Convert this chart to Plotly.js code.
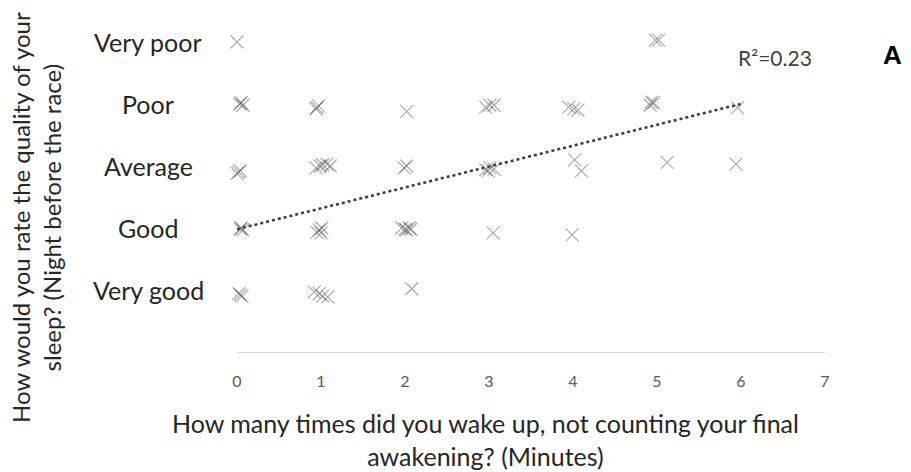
<!DOCTYPE html>
<html>
<head>
<meta charset="utf-8">
<script src="https://cdn.plot.ly/plotly-3.0.1.min.js"></script>
<style>
  html, body { margin: 0; padding: 0; background: #ffffff; }
  #chart { width: 911px; height: 472px; }
</style>
</head>
<body>
<div id="chart"></div>
<script>
// Sleep quality rating (1 = very good ... 5 = very poor) vs. number of night awakenings
const qualityLevels = [1, 2, 3, 4, 5];
const qualityLabels = ['Very good', 'Good', 'Average', 'Poor', 'Very poor'];
const xTicks = [0, 1, 2, 3, 4, 5, 6, 7];

// One entry per runner (slightly offset so coincident answers stay visible)
const wakeups = [
  // Very poor
  0.00, 4.98, 5.02,
  // Poor
  0.05, 0.07, 0.03, 0.95, 0.97, 0.94, 2.02, 2.96, 3.01, 3.06,
  3.95, 4.01, 4.06, 4.92, 4.96, 4.93, 5.96,
  // Average
  0.02, 0.04, 0.00, 0.94, 0.99, 1.02, 1.07, 1.11, 1.99, 2.02,
  2.96, 3.01, 3.06, 2.99, 4.02, 4.10, 5.12, 5.94,
  // Good
  0.04, 0.07, 0.05, 0.98, 1.00, 0.95, 1.01, 1.96, 2.00, 2.05,
  2.07, 2.02, 3.05, 3.99,
  // Very good
  0.04, 0.06, 0.02, 0.92, 0.98, 1.02, 1.08, 2.08
];
const quality = [
  5.00, 5.03, 5.03,
  4.02, 3.98, 4.00, 3.94, 3.97, 3.92, 3.88, 3.95, 3.98, 3.98,
  3.95, 3.92, 3.90, 3.98, 4.02, 4.03, 3.94,
  2.90, 2.92, 2.88, 2.97, 3.00, 3.02, 3.03, 3.00, 2.97, 3.00,
  2.94, 2.97, 2.95, 2.92, 3.10, 2.92, 3.06, 3.03,
  1.98, 1.97, 2.00, 1.97, 1.92, 1.93, 2.00, 2.00, 1.98, 2.00,
  1.98, 1.97, 1.92, 1.89,
  0.92, 0.90, 0.94, 0.97, 0.94, 0.90, 0.89, 1.02
];

// Linear trendline
const trendX = [0, 6];
const trendIntercept = 1.98;
const trendSlope = 0.337;
const rSquaredText = 'R²=0.23';
const panelLetter = 'A';

const yTitle = 'How would you rate the quality of your<br>sleep? (Night before the race)';
const xTitle = 'How many times did you wake up, not counting your final<br>awakening? (Minutes)';

const font = 'Lato, "Open Sans", sans-serif';

const points = {
  type: 'scatter',
  mode: 'markers',
  x: wakeups,
  y: quality,
  cliponaxis: false,
  hoverinfo: 'skip',
  marker: {
    symbol: 'x-thin-open',
    size: 13,
    color: 'rgba(80,80,80,0.5)',
    line: { color: 'rgba(80,80,80,0.5)', width: 1.1 }
  },
  showlegend: false
};

const trend = {
  type: 'scatter',
  mode: 'lines',
  x: trendX,
  y: trendX.map(v => trendIntercept + trendSlope * v),
  cliponaxis: false,
  line: { color: '#3f3f3f', width: 2.6, dash: 'dot' },
  hoverinfo: 'skip',
  showlegend: false
};

// plot area: left edge 237px, width 588px; bottom 352px, height 332px
const px = v => (v - 237) / 588;
const py = v => (352 - v) / 332;

const annotations = qualityLevels.map((lvl, i) => ({
  xref: 'paper', yref: 'y',
  x: px(148), y: lvl,
  xanchor: 'center', yanchor: 'middle',
  text: qualityLabels[i],
  showarrow: false,
  font: { family: font, size: 25, color: '#262626' }
}));

annotations.push(
  {
    xref: 'paper', yref: 'paper',
    x: px(36), y: py(218),
    xanchor: 'center', yanchor: 'middle',
    textangle: -90,
    text: yTitle,
    showarrow: false,
    font: { family: font, size: 24, color: '#262626' }
  },
  {
    xref: 'paper', yref: 'paper',
    x: px(485), y: py(439),
    xanchor: 'center', yanchor: 'middle',
    text: xTitle,
    showarrow: false,
    font: { family: font, size: 25, color: '#262626' }
  },
  {
    xref: 'paper', yref: 'paper',
    x: px(775), y: py(57),
    xanchor: 'center', yanchor: 'middle',
    text: rSquaredText,
    showarrow: false,
    font: { family: font, size: 21, color: '#404040' }
  },
  {
    xref: 'paper', yref: 'paper',
    x: px(892), y: py(55),
    xanchor: 'center', yanchor: 'middle',
    text: '<b>' + panelLetter + '</b>',
    showarrow: false,
    font: { family: 'Liberation Sans, Arial, sans-serif', size: 26, color: '#000000' }
  }
);

const layout = {
  width: 911,
  height: 472,
  margin: { l: 237, r: 86, t: 20, b: 120 },
  paper_bgcolor: '#ffffff',
  plot_bgcolor: '#ffffff',
  xaxis: {
    range: [0, 7],
    tickvals: xTicks,
    ticktext: xTicks.map(String),
    showgrid: false,
    zeroline: false,
    showline: true,
    linecolor: '#d9d9d9',
    linewidth: 1,
    ticks: '',
    ticklabelstandoff: 15,
    tickfont: { family: font, size: 16, color: '#595959' },
    fixedrange: true
  },
  yaxis: {
    range: [0, 332 / 62],
    showgrid: false,
    zeroline: false,
    showline: false,
    showticklabels: false,
    ticks: '',
    fixedrange: true
  },
  annotations: annotations
};

Plotly.newPlot('chart', [trend, points], layout, { staticPlot: true, displayModeBar: false });
</script>
</body>
</html>
